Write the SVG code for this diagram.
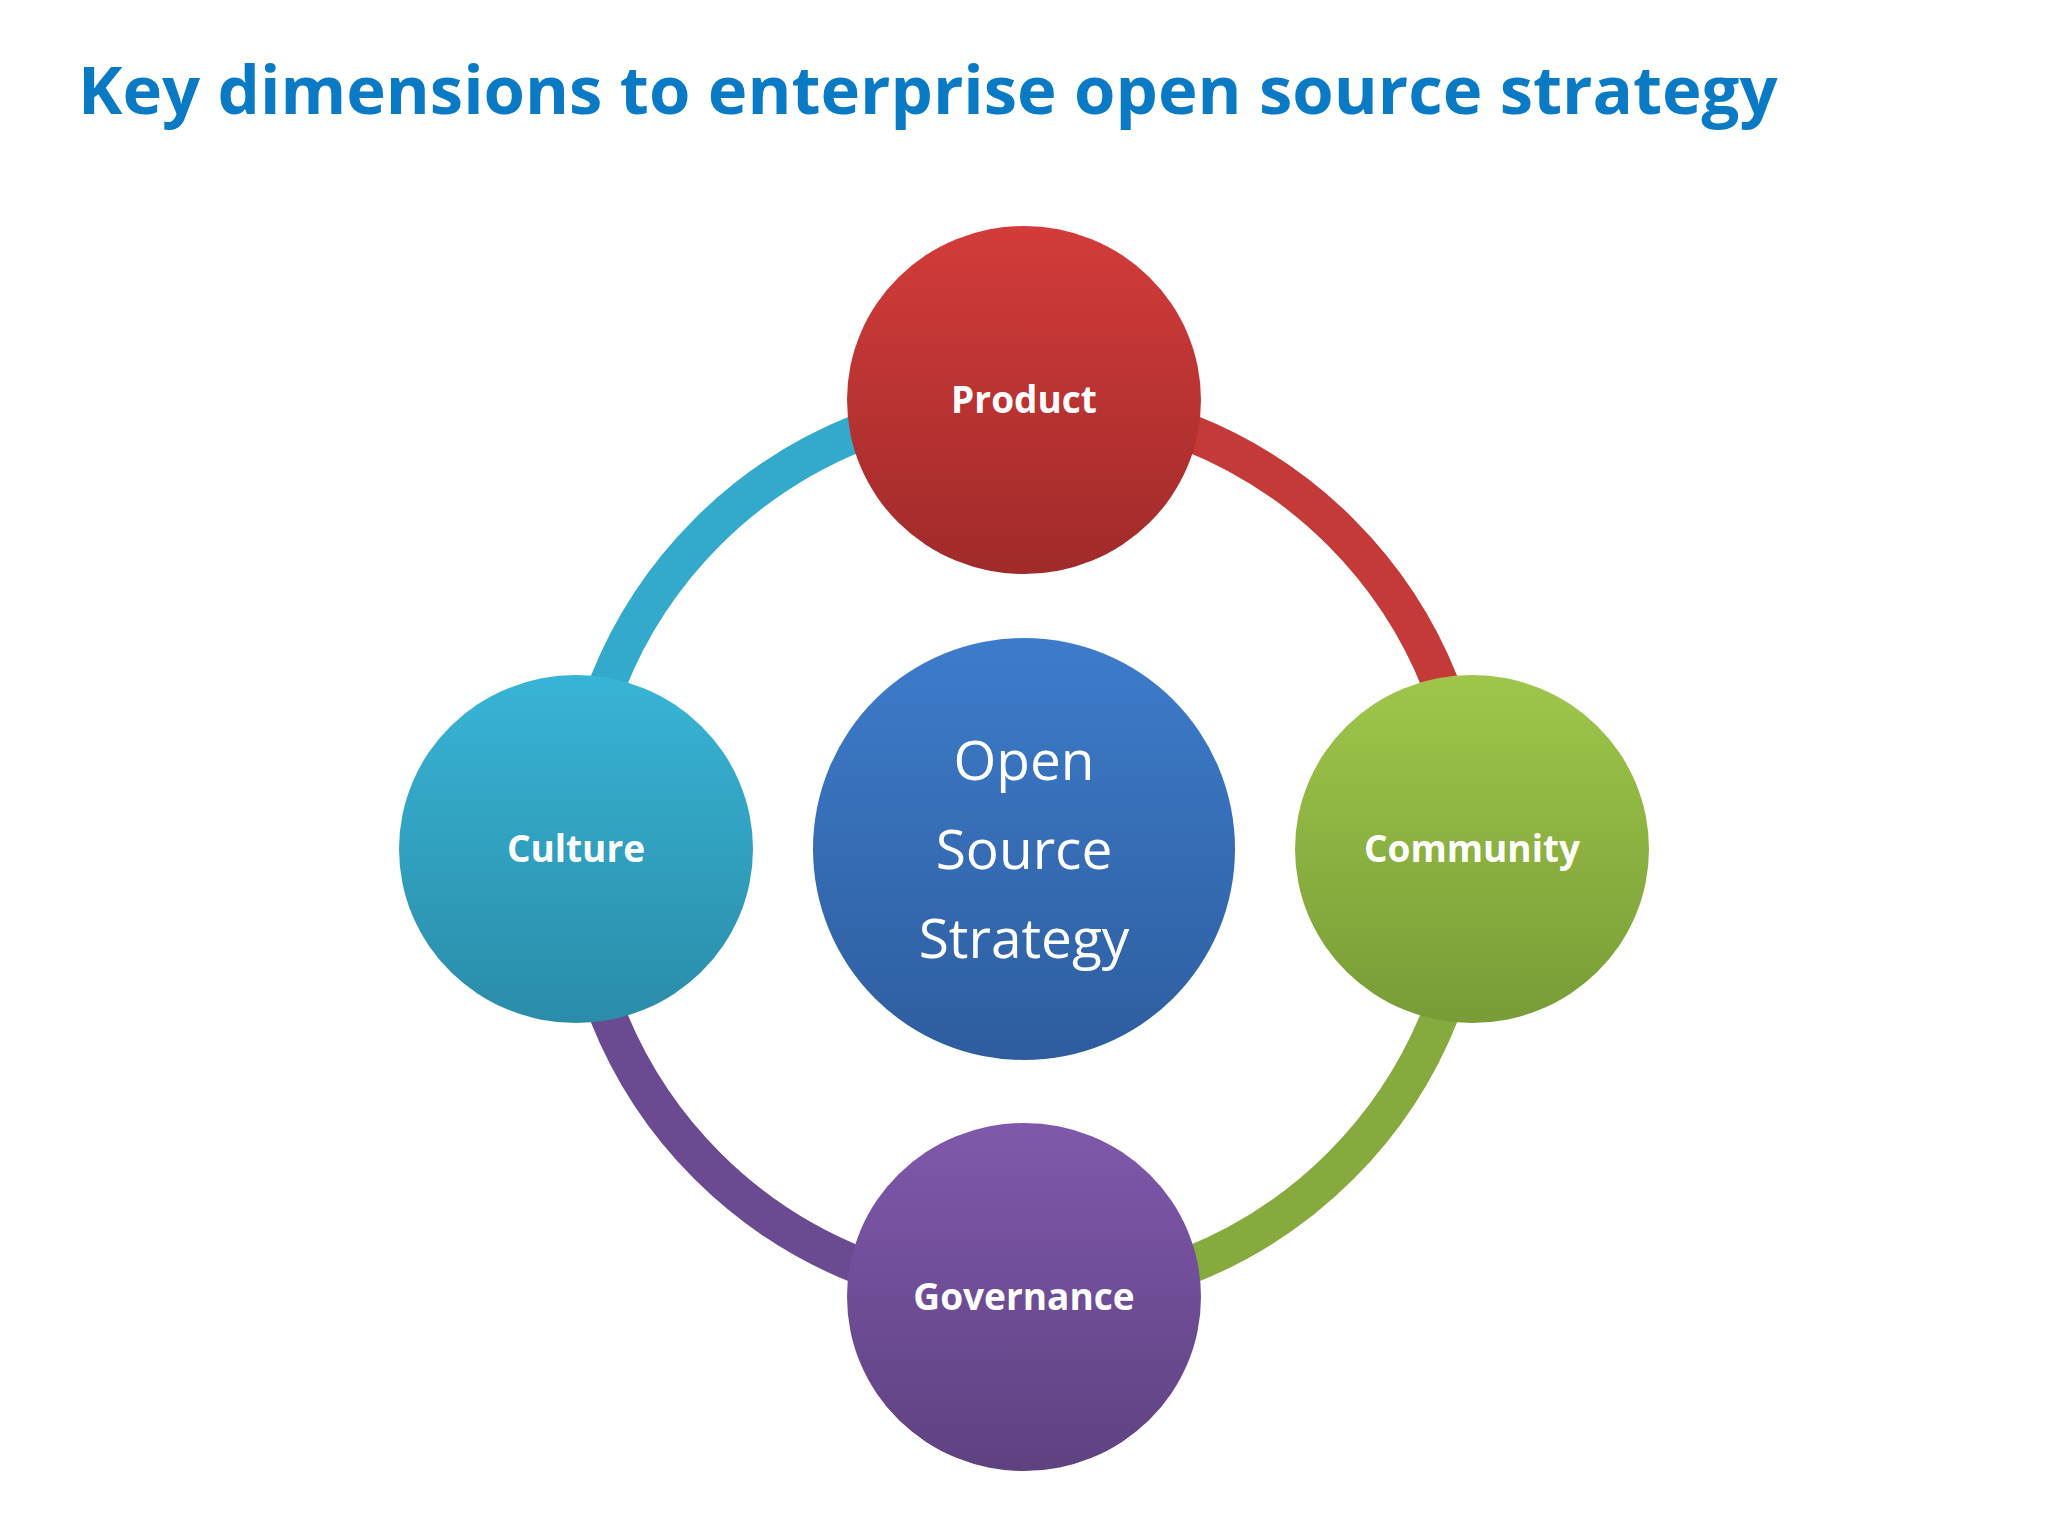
<svg xmlns="http://www.w3.org/2000/svg" width="2048" height="1536" viewBox="0 0 2048 1536">
<defs>
<linearGradient id="gR" x1="0" y1="0" x2="0" y2="1"><stop offset="0" stop-color="#d23c3a"/><stop offset="1" stop-color="#a02a2a"/></linearGradient>
<linearGradient id="gB" x1="0" y1="0" x2="0" y2="1"><stop offset="0" stop-color="#3d7ccb"/><stop offset="1" stop-color="#2e5d9e"/></linearGradient>
<linearGradient id="gC" x1="0" y1="0" x2="0" y2="1"><stop offset="0" stop-color="#38b4d6"/><stop offset="1" stop-color="#2a8ca8"/></linearGradient>
<linearGradient id="gG" x1="0" y1="0" x2="0" y2="1"><stop offset="0" stop-color="#9fc64b"/><stop offset="1" stop-color="#789c36"/></linearGradient>
<linearGradient id="gP" x1="0" y1="0" x2="0" y2="1"><stop offset="0" stop-color="#8058ac"/><stop offset="1" stop-color="#5e4280"/></linearGradient>
<style>
.lbl{font-family:"Open Sans","Noto Sans",sans-serif;font-weight:bold;font-size:37px;fill:#fff;text-anchor:middle}
.ctr{font-family:"Open Sans","Noto Sans",sans-serif;font-size:55px;fill:#fff;text-anchor:middle}
.arc{fill:none;stroke-width:37}
</style>
</defs>
<rect width="2048" height="1536" fill="#fff"/>
<text x="78" y="114" font-family="'Open Sans','Noto Sans',sans-serif" font-weight="bold" font-size="67" fill="#0a7ac4">Key dimensions to enterprise open source strategy</text>
<g id="connectors">
<path class="arc" stroke="#33a9cc" d="M576 849 A448 448 0 0 1 1024 401"/>
<path class="arc" stroke="#c33a38" d="M1024 401 A448 448 0 0 1 1472 849"/>
<path class="arc" stroke="#86aa3e" d="M1472 849 A448 448 0 0 1 1024 1297"/>
<path class="arc" stroke="#6a4b92" d="M1024 1297 A448 448 0 0 1 576 849"/>
</g>
<g id="center"><circle cx="1024" cy="849" r="211" fill="url(#gB)"/>
<text class="ctr" x="1024" y="780">Open</text><text class="ctr" x="1024" y="869">Source</text><text class="ctr" x="1024" y="958">Strategy</text></g>
<g id="product"><ellipse cx="1024" cy="400" rx="177" ry="174" fill="url(#gR)"/><text class="lbl" x="1024" y="413">Product</text></g>
<g id="culture"><ellipse cx="576" cy="849" rx="177" ry="174" fill="url(#gC)"/><text class="lbl" x="576" y="862">Culture</text></g>
<g id="community"><ellipse cx="1472" cy="849" rx="177" ry="174" fill="url(#gG)"/><text class="lbl" x="1472" y="862">Community</text></g>
<g id="governance"><ellipse cx="1024" cy="1297" rx="177" ry="174" fill="url(#gP)"/><text class="lbl" x="1024" y="1310">Governance</text></g>
</svg>
